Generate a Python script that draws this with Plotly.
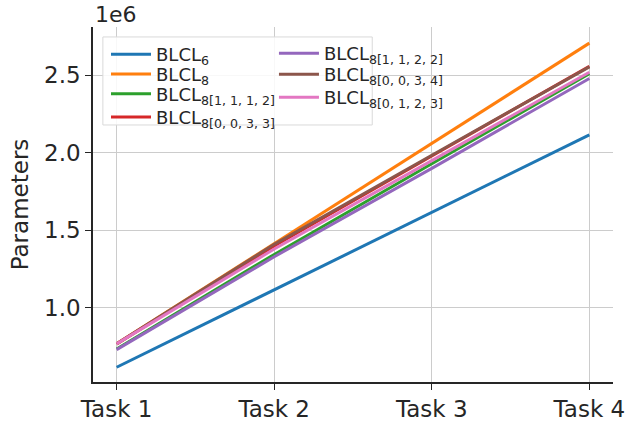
import plotly.graph_objects as go

# Parameter counts (in millions) after each task
tasks = ["Task 1", "Task 2", "Task 3", "Task 4"]
blcl6 = [0.617, 1.117, 1.616, 2.116]
blcl8 = [0.768, 1.415, 2.062, 2.708]
blcl8_1112 = [0.735, 1.345, 1.930, 2.510]
blcl8_0033 = [0.768, 1.400, 1.980, 2.559]
blcl8_1122 = [0.731, 1.330, 1.900, 2.480]
blcl8_0034 = [0.768, 1.410, 1.985, 2.555]
blcl8_0123 = [0.768, 1.380, 1.950, 2.520]

ytick_vals = [1.0, 1.5, 2.0, 2.5]
ytick_text = ["1.0", "1.5", "2.0", "2.5"]

series = [
    ("BLCL<sub>6</sub>", blcl6, "#1f77b4"),
    ("BLCL<sub>8</sub>", blcl8, "#ff7f0e"),
    ("BLCL<sub>8[1, 1, 1, 2]</sub>", blcl8_1112, "#2ca02c"),
    ("BLCL<sub>8[0, 0, 3, 3]</sub>", blcl8_0033, "#d62728"),
    ("BLCL<sub>8[1, 1, 2, 2]</sub>", blcl8_1122, "#9467bd"),
    ("BLCL<sub>8[0, 0, 3, 4]</sub>", blcl8_0034, "#8c564b"),
    ("BLCL<sub>8[0, 1, 2, 3]</sub>", blcl8_0123, "#e377c2"),
]

# Legend layout: two columns, one legend box per entry
legend_cols = [0.025, 0.025, 0.025, 0.025, 0.348, 0.348, 0.348]
legend_rows_px = [54.5, 74.3, 94.0, 117.3, 53.5, 74.5, 97.5]

ink = "#262626"
font = "DejaVu Sans"
big = 23

W, H = 625, 421
M_L, M_R, M_T, M_B = 93, 12, 27, 39
plot_h = H - M_T - M_B

fig = go.Figure()
legend_layouts = {}
for i, (name, vals, color) in enumerate(series):
    key = "legend" if i == 0 else f"legend{i + 1}"
    fig.add_trace(go.Scatter(
        x=list(range(len(tasks))),
        y=[v * 1e6 for v in vals],
        mode="lines",
        name=name,
        line=dict(color=color, width=3),
        legend=key,
    ))
    legend_layouts[key] = dict(
        x=legend_cols[i],
        y=1 - (legend_rows_px[i] - M_T) / plot_h,
        xanchor="left",
        yanchor="middle",
        bgcolor="rgba(0,0,0,0)",
        borderwidth=0,
        font=dict(family=font, size=18, color=ink),
        itemwidth=40,
    )

axis_common = dict(
    showgrid=True,
    gridcolor="#cccccc",
    gridwidth=1.2,
    zeroline=False,
    showline=True,
    linecolor=ink,
    linewidth=1.5,
    ticks="outside",
    ticklen=6,
    tickwidth=1.3,
    tickcolor=ink,
    tickfont=dict(family=font, size=big, color=ink),
    automargin=False,
)

fig.update_layout(
    width=W,
    height=H,
    margin=dict(l=M_L, r=M_R, t=M_T, b=M_B),
    paper_bgcolor="white",
    plot_bgcolor="white",
    font=dict(family=font, size=big, color=ink),
    showlegend=True,
    xaxis=dict(
        range=[-0.15, 3.15],
        tickvals=list(range(len(tasks))),
        ticktext=tasks,
        ticklabelstandoff=0,
        ticklabeloverflow="allow",
        **axis_common,
    ),
    yaxis=dict(
        range=[0.522e6, 2.812e6],
        tickvals=[v * 1e6 for v in ytick_vals],
        ticktext=ytick_text,
        title=dict(text="Parameters", font=dict(family=font, size=big, color=ink), standoff=9),
        **axis_common,
    ),
    **legend_layouts,
)

# Shared frame behind both legend columns
fig.add_shape(
    type="rect", xref="paper", yref="paper",
    x0=0.019, x1=0.537, y0=0.724, y1=0.972,
    fillcolor="rgba(255,255,255,0.85)",
    line=dict(color="#d9d9d9", width=1),
    layer="above",
)

# Axis scale offset label
fig.add_annotation(
    text="1e6", xref="paper", yref="paper", x=0.0, y=1.0,
    xanchor="left", yanchor="bottom", showarrow=False,
    font=dict(family=font, size=22, color=ink), yshift=-2,
)

fig.write_html("out.html")
